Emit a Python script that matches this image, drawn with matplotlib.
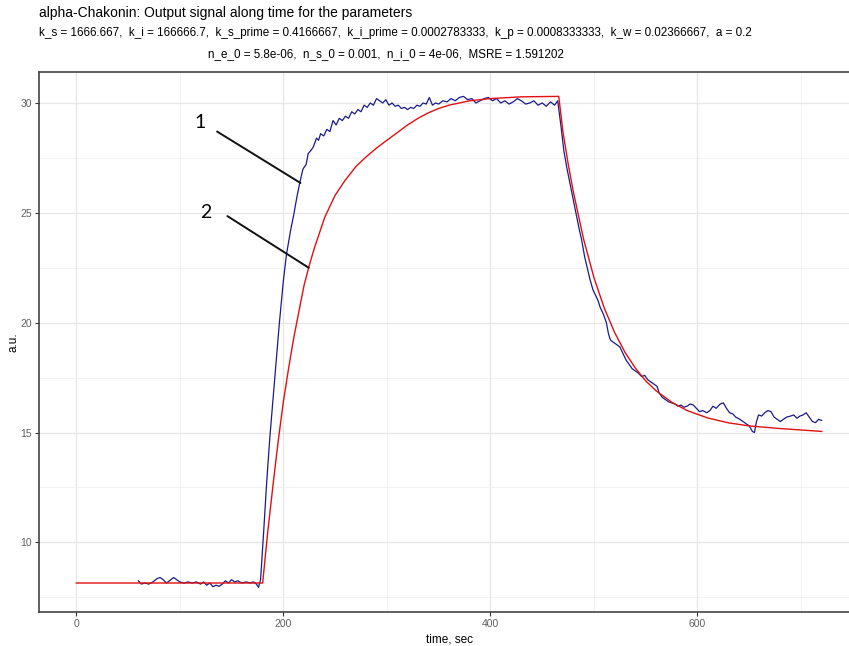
import matplotlib
matplotlib.use("Agg")
import matplotlib.pyplot as plt
from matplotlib.ticker import MultipleLocator

# model output (red)
model_t = [0, 180, 185, 190, 195, 200, 205, 210, 215, 220, 225, 230, 235, 240, 250,
           260, 270, 280, 290, 300, 310, 320, 330, 340, 350, 360, 380, 400, 430, 466,
           470, 475, 480, 490, 500, 510, 520, 530, 540, 550, 560, 575, 590, 610, 630,
           650, 680, 720]
model_y = [8.15, 8.15, 10.5, 12.6, 14.6, 16.4, 17.9, 19.3, 20.5, 21.7, 22.6, 23.4, 24.1, 24.8, 25.8,
           26.5, 27.1, 27.55, 27.95, 28.3, 28.65, 29.0, 29.3, 29.55, 29.75, 29.9, 30.1, 30.2, 30.28, 30.3,
           28.7, 27.25, 25.98, 23.8, 22.05, 20.66, 19.55, 18.65, 17.93, 17.35, 16.9, 16.38, 16.0, 15.66, 15.44,
           15.3, 15.18, 15.05]

# measured signal (blue)
data_t = [60, 63, 66, 70, 74, 78, 81, 84, 87, 90, 94, 97, 100, 104, 108, 112, 116, 120, 123, 126,
          129, 132, 135, 138, 141, 144, 147, 150, 153, 156, 160, 164, 168, 171, 174, 176, 178,
          181, 184, 187, 190, 193, 196, 200, 203, 207, 210, 213, 216, 219, 222, 224, 226, 229,
          232, 234, 236, 239, 242, 245, 248, 251, 254, 257, 260, 263, 266, 269, 272, 275, 278,
          281, 284, 287, 290, 293, 296, 299, 302, 305, 308, 311, 314, 317, 320, 323, 326, 329,
          332, 335, 338, 341, 344, 347, 350, 354, 358, 362, 366, 370, 374, 378, 382, 386, 390,
          394, 398, 402, 406, 410, 414, 418, 422, 426, 430, 434, 438, 442, 446, 450, 454, 458,
          462, 465, 468, 471, 474, 477, 480, 483, 486, 488, 491, 493, 496, 499, 502, 504, 506,
          509, 512, 514, 516, 519, 522, 525, 528, 531, 534, 537, 540, 543, 546, 549, 552, 555,
          558, 561, 563, 566, 569, 572, 575, 578, 581, 584, 587, 590, 593, 596, 599, 602, 605,
          609, 612, 615, 618, 622, 625, 628, 631, 634, 637, 641, 644, 647, 650, 653, 655, 657,
          659, 662, 665, 668, 671, 674, 677, 680, 683, 686, 690, 693, 696, 699, 702, 705, 708,
          711, 714, 717, 720]
data_y = [8.25, 8.1, 8.15, 8.1, 8.2, 8.35, 8.4, 8.3, 8.15, 8.25, 8.4, 8.3, 8.2, 8.15, 8.2, 8.15, 8.2, 8.1, 8.2, 8.05,
          8.15, 7.98, 8.05, 8.0, 8.1, 8.25, 8.15, 8.3, 8.2, 8.25, 8.15, 8.2, 8.15, 8.2, 8.1, 7.95, 8.3,
          10.5, 12.8, 14.8, 16.5, 18.2, 19.9, 21.9, 23.1, 24.2, 24.9, 25.7, 26.4, 27.0, 27.2, 27.7, 27.8, 28.0,
          28.4, 28.3, 28.6, 28.5, 28.8, 28.7, 29.2, 29.0, 29.3, 29.2, 29.4, 29.3, 29.6, 29.5, 29.7, 29.6, 29.9,
          29.8, 30.0, 29.9, 30.2, 30.1, 30.0, 30.15, 29.9, 30.0, 29.85, 29.9, 29.75, 29.8, 29.7, 29.8, 29.75, 29.9,
          29.85, 30.0, 29.95, 30.25, 29.9, 30.0, 29.95, 30.1, 30.05, 30.2, 30.1, 30.25, 30.3, 30.15, 30.2, 30.0, 30.1,
          30.2, 30.25, 30.1, 30.2, 30.0, 30.1, 29.95, 30.05, 30.2, 30.1, 29.95, 30.0, 30.1, 29.9, 30.0, 29.85, 30.05,
          29.9, 30.1, 29.0, 27.8, 27.0, 26.3, 25.6, 24.9, 24.2, 23.8, 23.0, 22.6, 22.0, 21.5, 21.2, 21.0, 20.7,
          20.4, 20.0, 19.5, 19.2, 19.1, 19.0, 18.9, 18.6, 18.3, 18.1, 17.9, 17.8, 17.7, 17.55, 17.6, 17.4, 17.3,
          17.2, 17.1, 16.8, 16.6, 16.5, 16.4, 16.35, 16.3, 16.2, 16.25, 16.15, 16.2, 16.3, 16.25, 16.1, 15.95, 16.0,
          15.9, 16.0, 16.2, 16.1, 16.3, 16.35, 16.1, 15.9, 15.85, 15.7, 15.6, 15.5, 15.4, 15.3, 15.05, 15.0, 15.5,
          15.8, 15.75, 15.9, 16.0, 15.95, 15.7, 15.6, 15.5, 15.6, 15.7, 15.75, 15.8, 15.65, 15.75, 15.8, 15.9, 15.7,
          15.5, 15.45, 15.6, 15.55]

title = "alpha-Chakonin: Output signal along time for the parameters"
sub1 = ("k_s = 1666.667,  k_i = 166666.7,  k_s_prime = 0.4166667,  k_i_prime = 0.0002783333,  "
        "k_p = 0.0008333333,  k_w = 0.02366667,  a = 0.2")
sub2 = "n_e_0 = 5.8e-06,  n_s_0 = 0.001,  n_i_0 = 4e-06,  MSRE = 1.591202"

plt.rcParams["font.family"] = ["Liberation Sans", "DejaVu Sans"]

W, H = 849, 646
fig = plt.figure(figsize=(W / 100, H / 100), dpi=100)
ax = fig.add_axes([39 / W, 1 - 612 / H, (859 - 39) / W, (612 - 72) / H])

ax.plot(data_t, data_y, color="#1a1a8c", lw=0.9)
ax.plot(model_t, model_y, color="#e01010", lw=1.0)

ax.set_xlim(-36, 756)
ax.set_ylim(6.83, 31.41)
ax.xaxis.set_major_locator(MultipleLocator(200))
ax.xaxis.set_minor_locator(MultipleLocator(100))
ax.yaxis.set_major_locator(MultipleLocator(5))
ax.yaxis.set_minor_locator(MultipleLocator(2.5))
ax.grid(which="major", color="#e6e6e6", lw=0.9)
ax.grid(which="minor", color="#f0f0f0", lw=0.6)
ax.set_axisbelow(True)
ax.tick_params(which="major", length=3, width=0.8, color="#333333",
               labelsize=7.5, labelcolor="#606060", pad=2)
ax.tick_params(which="minor", length=0)
for s in ax.spines.values():
    s.set_color("#444444")
    s.set_linewidth(1.2)

ax.set_xlabel("time, sec", fontsize=8.5, labelpad=3)
ax.set_ylabel("a.u.", fontsize=8.5, labelpad=1)

fig.text(39 / W, 1 - 13 / H, title, fontsize=10, va="center", ha="left")
fig.text(39 / W, 1 - 33 / H, sub1, fontsize=8.4, va="center", ha="left")
fig.text(208 / W, 1 - 54 / H, sub2, fontsize=8.4, va="center", ha="left")

# curve labels "1" (signal) and "2" (model)
ax.text(120, 29.1, "1", fontsize=14, family="Lato", ha="center", va="center")
ax.annotate("", xy=(216.5, 26.36), xytext=(136, 28.7),
            arrowprops=dict(arrowstyle="-", color="#111111", lw=1.4, shrinkA=0, shrinkB=0))
ax.text(125, 25.0, "2", fontsize=14, family="Lato", ha="center", va="center")
ax.annotate("", xy=(224.5, 22.5), xytext=(146, 24.85),
            arrowprops=dict(arrowstyle="-", color="#111111", lw=1.4, shrinkA=0, shrinkB=0))

fig.savefig("out.png", dpi=100)
